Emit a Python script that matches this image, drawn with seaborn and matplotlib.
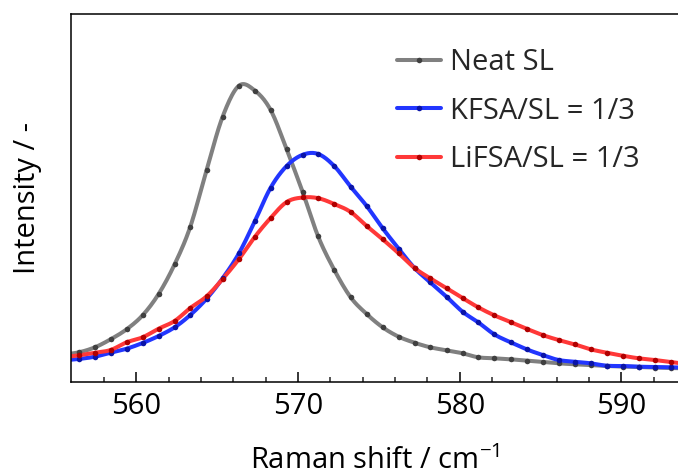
import matplotlib
matplotlib.use("Agg")
import matplotlib.pyplot as plt
from matplotlib.lines import Line2D
import numpy as np
import pandas as pd
import seaborn as sns

# Raman shift (cm^-1) of the sampled points
raman_shift = [
    555.45, 556.44, 557.43, 558.40, 559.39, 560.38, 561.37, 562.36, 563.33, 564.34,
    565.33, 566.34, 567.33, 568.30, 569.29, 570.28, 571.24, 572.23, 573.25, 574.24,
    575.23, 576.22, 577.20, 578.17, 579.18, 580.17, 581.14, 582.13, 583.14, 584.13,
    585.12, 586.11, 587.10, 588.09, 589.08, 590.07, 591.06, 592.05, 593.04, 594.03,
]

# Intensity (arbitrary units) for each sample
neat_sl = [
    7.47, 8.07, 9.43, 11.60, 14.32, 18.13, 23.91, 31.98, 42.20, 57.61,
    72.09, 80.52, 79.16, 73.91, 63.23, 51.63, 39.54, 30.52, 23.02, 18.48,
    14.86, 12.31, 10.68, 9.43, 8.61, 7.80, 6.71, 6.44, 6.17, 5.79,
    5.43, 5.08, 4.81, 4.62, 4.35, 4.21, 4.08, 3.94, 3.80, 3.72,
]
kfsa_sl = [
    5.84, 6.25, 6.88, 7.96, 9.05, 10.60, 12.50, 14.86, 18.21, 22.64,
    28.18, 34.97, 43.75, 52.80, 58.70, 61.74, 61.96, 58.70, 53.07, 47.83,
    41.77, 36.22, 30.98, 27.09, 23.18, 19.10, 16.22, 12.96, 10.79, 8.89,
    7.34, 5.98, 5.52, 5.08, 4.43, 4.35, 4.16, 4.08, 3.99, 3.91,
]
lifsa_sl = [
    6.66, 7.26, 7.96, 8.70, 10.79, 12.15, 14.48, 16.58, 20.11, 23.29,
    27.99, 33.42, 39.48, 44.57, 48.91, 50.14, 49.95, 48.37, 46.20, 42.39,
    38.78, 34.97, 30.98, 28.18, 25.54, 22.83, 20.30, 18.13, 16.30, 14.48,
    12.77, 11.41, 10.24, 8.89, 7.96, 7.15, 6.44, 5.98, 5.43, 4.89,
]

labels = ["Neat SL", "KFSA/SL = 1/3", "LiFSA/SL = 1/3"]
line_colors = ["#808080", "#2236ff", "#ff3838"]
marker_colors = ["#404040", "#0a14a8", "#b00000"]


def spline_connect(x, y, steps=12):
    """Smooth Catmull-Rom connection through the measured points."""
    x = np.asarray(x, float)
    y = np.asarray(y, float)
    n = len(x)
    mx = np.gradient(x)
    my = np.gradient(y)
    t = np.linspace(0, 1, steps, endpoint=False)
    h00 = 2 * t**3 - 3 * t**2 + 1
    h10 = t**3 - 2 * t**2 + t
    h01 = -2 * t**3 + 3 * t**2
    h11 = t**3 - t**2
    xs, ys = [], []
    for i in range(n - 1):
        xs.append(h00 * x[i] + h10 * mx[i] + h01 * x[i + 1] + h11 * mx[i + 1])
        ys.append(h00 * y[i] + h10 * my[i] + h01 * y[i + 1] + h11 * my[i + 1])
    xs.append([x[-1]])
    ys.append([y[-1]])
    return np.concatenate(xs), np.concatenate(ys)


sns.set_theme(style="ticks")
plt.rcParams["font.family"] = ["Open Sans", "DejaVu Sans"]
plt.rcParams["mathtext.fontset"] = "custom"
plt.rcParams["mathtext.rm"] = "Open Sans"

fig = plt.figure(figsize=(6.78, 4.75), dpi=100)
ax = fig.add_axes([71 / 678, 93 / 475, 1 - 71 / 678, 368 / 475])

handles = []
for series, label, lc, mc in zip([neat_sl, kfsa_sl, lifsa_sl], labels, line_colors, marker_colors):
    sx, sy = spline_connect(raman_shift, series)
    curve = pd.DataFrame({"shift": sx, "intensity": sy})
    points = pd.DataFrame({"shift": raman_shift, "intensity": series})
    sns.lineplot(data=curve, x="shift", y="intensity", ax=ax, color=lc,
                 linewidth=2.9, estimator=None, sort=False, legend=False)
    sns.scatterplot(data=points, x="shift", y="intensity", ax=ax, color=mc,
                    s=16, linewidth=0, legend=False, zorder=3)
    handles.append(Line2D([], [], color=lc, linewidth=2.9, marker="o", markersize=4,
                          markerfacecolor=mc, markeredgewidth=0, label=label))

ax.set_xlim(555.95, 593.5)
ax.set_ylim(0, 100)
ax.set_xticks([560, 570, 580, 590])
ax.set_xticks(range(558, 594, 2), minor=True)
ax.set_yticks([])
ax.tick_params(axis="x", which="major", direction="in", length=7.5, width=1.1,
               labelsize=21, pad=7, colors="black")
ax.tick_params(axis="x", which="minor", direction="in", length=3.8, width=1.1)
for side in ["left", "top", "bottom"]:
    ax.spines[side].set_linewidth(1.1)
    ax.spines[side].set_color("black")
ax.spines["right"].set_visible(False)

ax.set_xlabel(r"Raman shift / cm$^{\mathregular{-1}}$", fontsize=21, labelpad=18, color="black")
ax.set_ylabel("Intensity / -", fontsize=21, labelpad=21, color="black")

ax.legend(
    handles=handles, loc="upper left", bbox_to_anchor=(397 / 678, 0.898),
    bbox_transform=fig.transFigure, frameon=False, fontsize=21,
    handlelength=1.5, handletextpad=0.3, labelspacing=0.66,
    borderpad=0, borderaxespad=0,
)

fig.savefig("out.png", dpi=100)
